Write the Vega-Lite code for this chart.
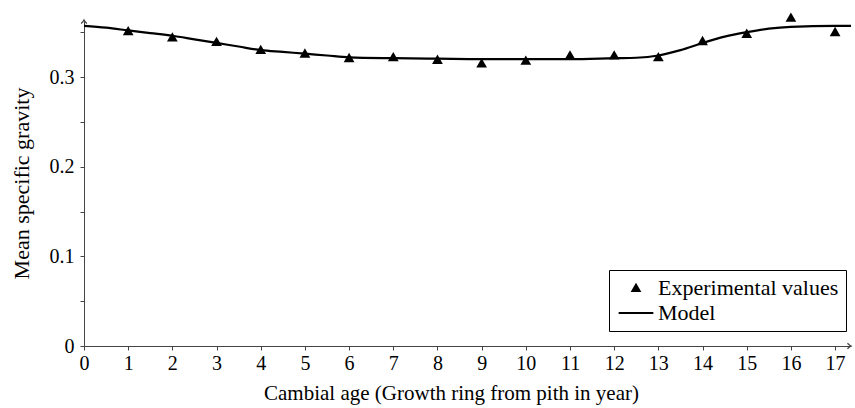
{
  "$schema": "https://vega.github.io/schema/vega-lite/v6.json",
  "width": 767,
  "height": 326,
  "autosize": {"type": "none"},
  "padding": {"left": 84, "top": 20, "right": 4, "bottom": 62},
  "background": "white",
  "config": {
    "font": "Liberation Serif",
    "view": {"stroke": null},
    "axis": {
      "labelFont": "Liberation Serif",
      "titleFont": "Liberation Serif",
      "labelFontSize": 20,
      "titleFontSize": 21,
      "titleFontWeight": "normal",
      "labelColor": "black",
      "titleColor": "black",
      "domainColor": "#444",
      "tickColor": "#444",
      "tickSize": 4,
      "grid": false
    }
  },
  "resolve": {"scale": {"shape": "independent"}, "legend": {"shape": "independent"}},
  "datasets": {
    "exp": [
      {"x": 1, "y": 0.351, "series": "Experimental values"},
      {"x": 2, "y": 0.344, "series": "Experimental values"},
      {"x": 3, "y": 0.339, "series": "Experimental values"},
      {"x": 4, "y": 0.330, "series": "Experimental values"},
      {"x": 5, "y": 0.326, "series": "Experimental values"},
      {"x": 6, "y": 0.321, "series": "Experimental values"},
      {"x": 7, "y": 0.322, "series": "Experimental values"},
      {"x": 8, "y": 0.319, "series": "Experimental values"},
      {"x": 9, "y": 0.315, "series": "Experimental values"},
      {"x": 10, "y": 0.318, "series": "Experimental values"},
      {"x": 11, "y": 0.324, "series": "Experimental values"},
      {"x": 12, "y": 0.324, "series": "Experimental values"},
      {"x": 13, "y": 0.322, "series": "Experimental values"},
      {"x": 14, "y": 0.340, "series": "Experimental values"},
      {"x": 15, "y": 0.348, "series": "Experimental values"},
      {"x": 16, "y": 0.366, "series": "Experimental values"},
      {"x": 17, "y": 0.350, "series": "Experimental values"}
    ],
    "model": [
      {"x": 0, "y": 0.357},
      {"x": 0.5, "y": 0.355},
      {"x": 1, "y": 0.352},
      {"x": 1.5, "y": 0.349},
      {"x": 2, "y": 0.346},
      {"x": 2.5, "y": 0.342},
      {"x": 3, "y": 0.338},
      {"x": 3.5, "y": 0.334},
      {"x": 4, "y": 0.330},
      {"x": 4.5, "y": 0.328},
      {"x": 5, "y": 0.326},
      {"x": 5.5, "y": 0.324},
      {"x": 6, "y": 0.322},
      {"x": 7, "y": 0.321},
      {"x": 8, "y": 0.3205},
      {"x": 9, "y": 0.320},
      {"x": 10, "y": 0.320},
      {"x": 11, "y": 0.320},
      {"x": 12, "y": 0.321},
      {"x": 12.5, "y": 0.3215},
      {"x": 13, "y": 0.324},
      {"x": 13.5, "y": 0.330},
      {"x": 14, "y": 0.338},
      {"x": 14.5, "y": 0.345},
      {"x": 15, "y": 0.350},
      {"x": 15.5, "y": 0.354},
      {"x": 16, "y": 0.356},
      {"x": 17, "y": 0.357},
      {"x": 17.36, "y": 0.357}
    ],
    "arrows": [
      {"x": 17.36, "y": 0, "dir": "right"},
      {"x": 0, "y": 0.3636, "dir": "up"}
    ]
  },
  "encoding": {
    "x": {
      "field": "x",
      "type": "quantitative",
      "scale": {"domain": [0, 17.36], "nice": false, "zero": false},
      "axis": {
        "values": [0,1,2,3,4,5,6,7,8,9,10,11,12,13,14,15,16,17],
        "title": "Cambial age (Growth ring from pith in year)",
        "labelPadding": 3,
        "titlePadding": 9,
        "titleX": 367,
        "titleAlign": "center",
        "labelFlush": false
      }
    },
    "y": {
      "field": "y",
      "type": "quantitative",
      "scale": {"domain": [0, 0.3636], "nice": false},
      "axis": {
        "values": [0, 0.05, 0.1, 0.15, 0.2, 0.25, 0.3, 0.35],
        "labelExpr": "abs(datum.value*10 - round(datum.value*10)) < 0.001 ? format(datum.value, '~g') : ''",
        "title": "Mean specific gravity",
        "titleFontSize": 22,
        "labelPadding": 6,
        "titlePadding": 16,
        "labelFlush": false
      }
    }
  },
  "layer": [
    {
      "data": {"name": "model"},
      "mark": {"type": "line", "interpolate": "monotone", "color": "black", "strokeWidth": 2.2, "clip": false}
    },
    {
      "data": {"name": "exp"},
      "mark": {"type": "point", "filled": true, "color": "black", "opacity": 1, "size": 300, "clip": false},
      "encoding": {
        "shape": {
          "field": "series",
          "type": "nominal",
          "scale": {"domain": ["Experimental values", "Model"], "range": ["M0,-0.62L0.62,0.46L-0.62,0.46Z", "M-2,-0.12H2V0.12H-2Z"]},
          "legend": {
            "title": null,
            "orient": "none",
            "legendX": 525,
            "legendY": 250,
            "labelFont": "Liberation Serif",
            "labelFontSize": 22,
            "labelColor": "black",
            "labelLimit": 400,
            "strokeColor": "black",
            "fillColor": "white",
            "padding": 7,
            "rowPadding": 3,
            "symbolSize": 300,
            "symbolOffset": 9,
            "symbolFillColor": "black",
            "labelOffset": 11
          }
        }
      }
    },
    {
      "data": {"name": "arrows"},
      "mark": {"type": "point", "filled": false, "color": "#444", "strokeWidth": 1.3, "size": 50, "opacity": 1, "clip": false},
      "encoding": {
        "shape": {
          "field": "dir",
          "type": "nominal",
          "scale": {"domain": ["right", "up"], "range": ["M-1,-0.8Q-0.4,-0.2 0,0Q-0.4,0.2 -1,0.8", "M-0.8,1Q-0.2,0.4 0,0Q0.2,0.4 0.8,1"]},
          "legend": null
        }
      }
    }
  ]
}
